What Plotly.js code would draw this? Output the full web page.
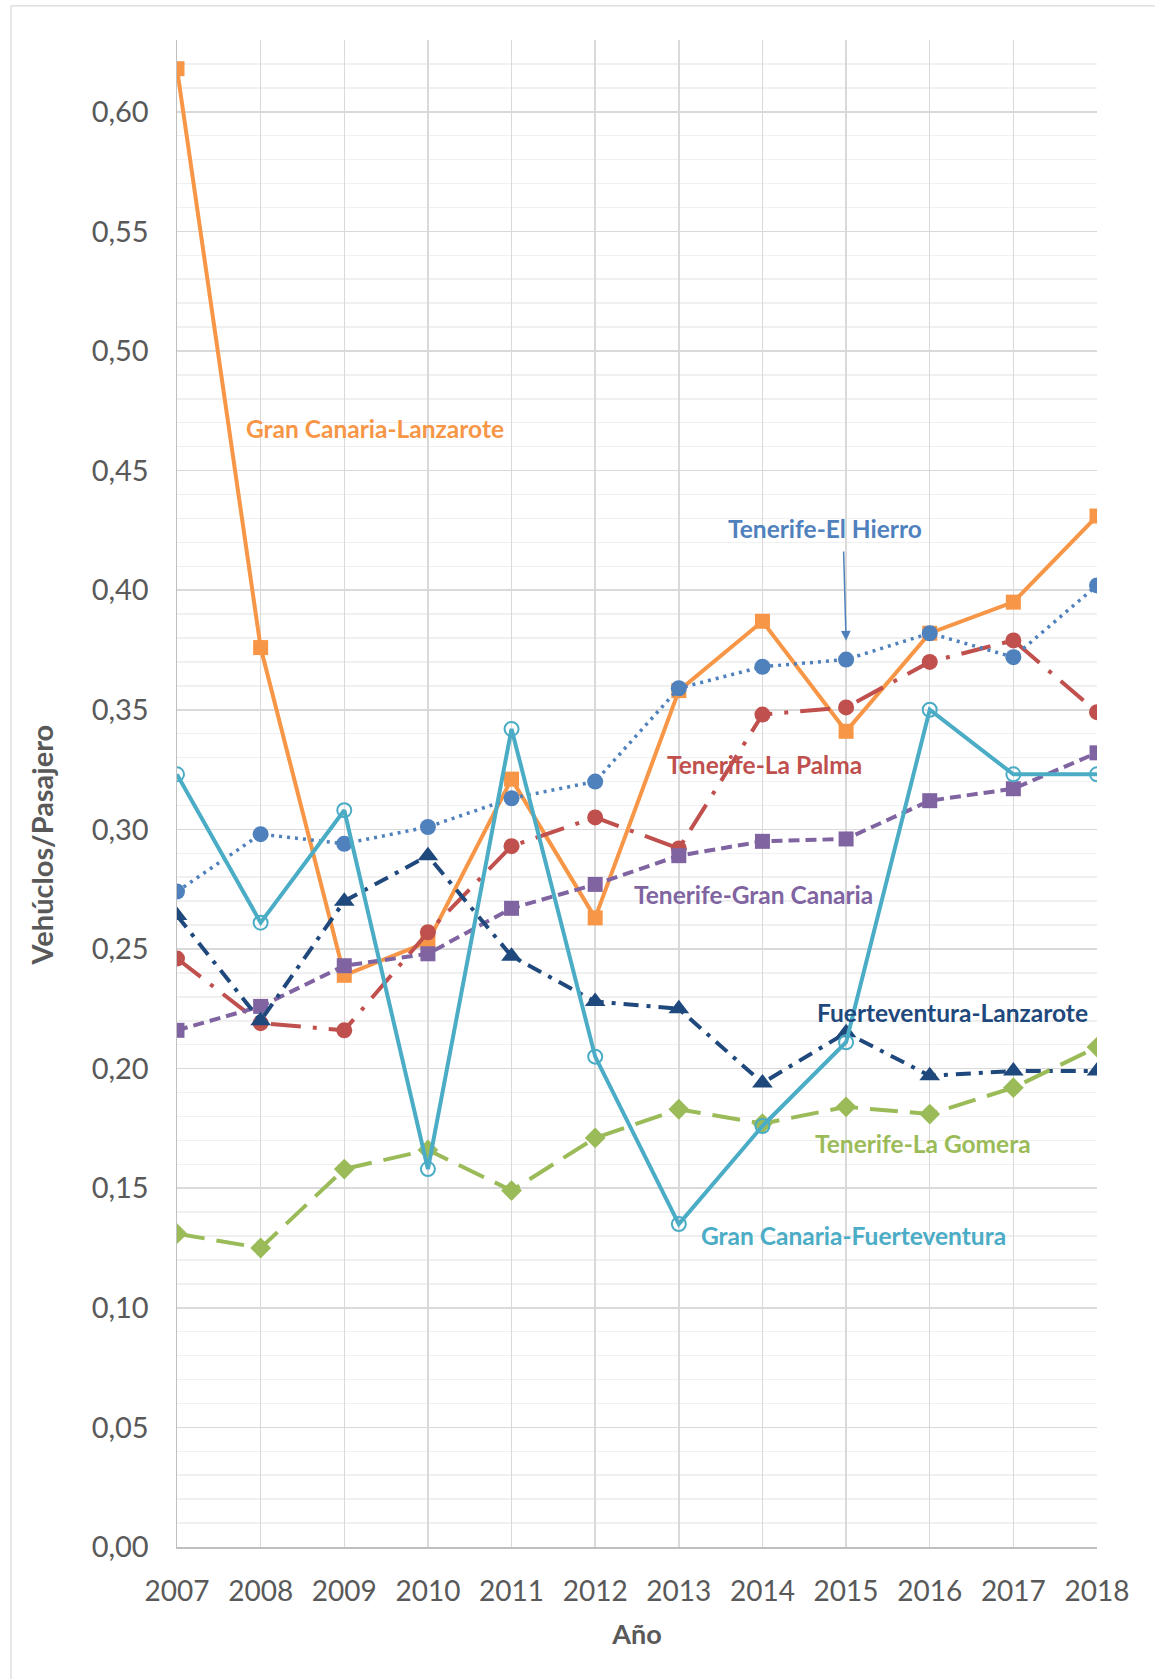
<!DOCTYPE html>
<html>
<head>
<meta charset="utf-8">
<script src="https://cdn.plot.ly/plotly-3.0.1.min.js"></script>
<style>
  html, body { margin: 0; padding: 0; background: #ffffff; }
  #chart { width: 1155px; height: 1679px; }
</style>
</head>
<body>
<div id="chart"></div>
<script>
// ---- Data ----
const years = [2007, 2008, 2009, 2010, 2011, 2012, 2013, 2014, 2015, 2016, 2017, 2018];

const granCanariaLanzarote   = [0.618, 0.376, 0.239, 0.253, 0.321, 0.263, 0.358, 0.387, 0.341, 0.382, 0.395, 0.431];
const tenerifeElHierro       = [0.274, 0.298, 0.294, 0.301, 0.313, 0.320, 0.359, 0.368, 0.371, 0.382, 0.372, 0.402];
const tenerifeLaPalma        = [0.246, 0.219, 0.216, 0.257, 0.293, 0.305, 0.292, 0.348, 0.351, 0.370, 0.379, 0.349];
const tenerifeGranCanaria    = [0.216, 0.226, 0.243, 0.248, 0.267, 0.277, 0.289, 0.295, 0.296, 0.312, 0.317, 0.332];
const granCanariaFuertev     = [0.323, 0.261, 0.308, 0.158, 0.342, 0.205, 0.135, 0.176, 0.211, 0.350, 0.323, 0.323];
const fuerteventuraLanzarote = [0.264, 0.220, 0.270, 0.289, 0.247, 0.228, 0.225, 0.194, 0.215, 0.197, 0.199, 0.199];
const tenerifeLaGomera       = [0.131, 0.125, 0.158, 0.166, 0.149, 0.171, 0.183, 0.177, 0.184, 0.181, 0.192, 0.209];

const seriesNames = [
  "Gran Canaria-Lanzarote", "Tenerife-El Hierro", "Tenerife-La Palma",
  "Tenerife-Gran Canaria", "Gran Canaria-Fuerteventura",
  "Fuerteventura-Lanzarote", "Tenerife-La Gomera"
];

const yTitle = "Vehúclos/Pasajero";
const xTitle = "Año";

// ---- Styles ----
const FONT = "Lato, 'Open Sans', sans-serif";
const C = {
  orange: "#F79646", blue: "#4F81BD", red: "#C0504D", purple: "#8064A2",
  teal: "#4BACC6", navy: "#1F497D", green: "#9BBB59"
};

const traces = [
  { y: granCanariaLanzarote, name: seriesNames[0], color: C.orange, dash: "solid", width: 4,
    marker: { symbol: "square", size: 15 } },
  { y: tenerifeLaPalma, name: seriesNames[2], color: C.red, dash: "30px,12px,4px,12px", width: 4,
    marker: { symbol: "circle", size: 16 } },
  { y: tenerifeGranCanaria, name: seriesNames[3], color: C.purple, dash: "11px,6px", width: 4,
    marker: { symbol: "square", size: 15 } },
  { y: tenerifeElHierro, name: seriesNames[1], color: C.blue, dash: "3px,5px", width: 3.5,
    marker: { symbol: "circle", size: 16 } },
  { y: fuerteventuraLanzarote, name: seriesNames[5], color: C.navy, dash: "15px,8px,4px,8px", width: 4,
    marker: { symbol: "triangle-up", size: 18 } },
  { y: tenerifeLaGomera, name: seriesNames[6], color: C.green, dash: "28px,12px", width: 4,
    marker: { symbol: "diamond", size: 16 } },
  { y: granCanariaFuertev, name: seriesNames[4], color: C.teal, dash: "solid", width: 4,
    marker: { symbol: "circle-open", size: 14, line: { width: 2 } } }
].map(s => ({
  type: "scatter",
  mode: "lines+markers",
  x: years,
  y: s.y,
  name: s.name,
  line: { color: s.color, width: s.width, dash: s.dash },
  marker: Object.assign({ color: s.color }, s.marker),
  hoverinfo: "x+y+name"
}));

// series label annotations (positions in data coordinates)
const labelPos = [
  { text: seriesNames[0], x: 2009.37, y: 0.4677, color: C.orange },
  { text: seriesNames[1], x: 2014.75, y: 0.4256, color: C.blue },
  { text: seriesNames[2], x: 2014.03, y: 0.3271, color: C.red },
  { text: seriesNames[3], x: 2013.89, y: 0.2729, color: C.purple },
  { text: seriesNames[5], x: 2016.27, y: 0.2236, color: C.navy },
  { text: seriesNames[6], x: 2015.92, y: 0.1686, color: C.green },
  { text: seriesNames[4], x: 2015.09, y: 0.1302, color: C.teal }
];

const annotations = labelPos.map(a => ({
  x: a.x, y: a.y, xref: "x", yref: "y",
  text: "<b>" + a.text + "</b>",
  showarrow: false,
  font: { family: FONT, size: 24.5, color: a.color },
  xanchor: "center", yanchor: "middle"
}));

// arrow pointing to Tenerife-El Hierro
annotations.push({
  x: 2015.0, y: 0.3789, xref: "x", yref: "y",
  ax: 2014.97, ay: 0.4168, axref: "x", ayref: "y",
  text: "", showarrow: true, arrowhead: 2, arrowsize: 1.3, arrowwidth: 1.5,
  arrowcolor: C.blue
});

// y-axis title (placed like the reference, below the vertical centre)
annotations.push({
  xref: "paper", yref: "paper",
  x: -0.147, y: 0.466,
  text: "<b>" + yTitle + "</b>",
  textangle: -90,
  showarrow: false,
  font: { family: FONT, size: 29, color: "#595959" },
  xanchor: "center", yanchor: "middle"
});

const layout = {
  width: 1155,
  height: 1679,
  margin: { l: 177, r: 58, t: 40, b: 132 },
  paper_bgcolor: "#ffffff",
  plot_bgcolor: "#ffffff",
  separators: ",.",
  showlegend: false,
  font: { family: FONT, color: "#595959" },
  xaxis: {
    range: [2007, 2018],
    tickmode: "array",
    tickvals: years,
    ticktext: years.map(String),
    showgrid: true,
    gridcolor: "#d9d9d9",
    gridwidth: 1.5,
    showline: true,
    linecolor: "#bfbfbf",
    linewidth: 1.5,
    zeroline: false,
    ticks: "",
    ticklabelstandoff: 19,
    tickfont: { family: FONT, size: 28, color: "#595959" },
    title: { text: "<b>" + xTitle + "</b>", font: { family: FONT, size: 27, color: "#595959" }, standoff: 19 }
  },
  yaxis: {
    range: [0, 0.63],
    tick0: 0,
    dtick: 0.05,
    tickformat: ".2f",
    showgrid: true,
    gridcolor: "#d9d9d9",
    gridwidth: 1.5,
    minor: { dtick: 0.01, showgrid: true, gridcolor: "#f0f0f0", gridwidth: 1.5 },
    showline: true,
    linecolor: "#bfbfbf",
    linewidth: 1.5,
    zeroline: false,
    ticks: "",
    ticklabelstandoff: 21,
    tickfont: { family: FONT, size: 29, color: "#595959" }
  },
  shapes: [{
    type: "rect", xref: "paper", yref: "paper",
    x0: -0.1804, x1: 1.6, y0: -0.5, y1: 1.0226,
    line: { color: "#d9d9d9", width: 1.2 },
    fillcolor: "rgba(0,0,0,0)",
    layer: "below"
  }],
  annotations: annotations
};

Plotly.newPlot("chart", traces, layout, { displayModeBar: false, staticPlot: true });
</script>
</body>
</html>
